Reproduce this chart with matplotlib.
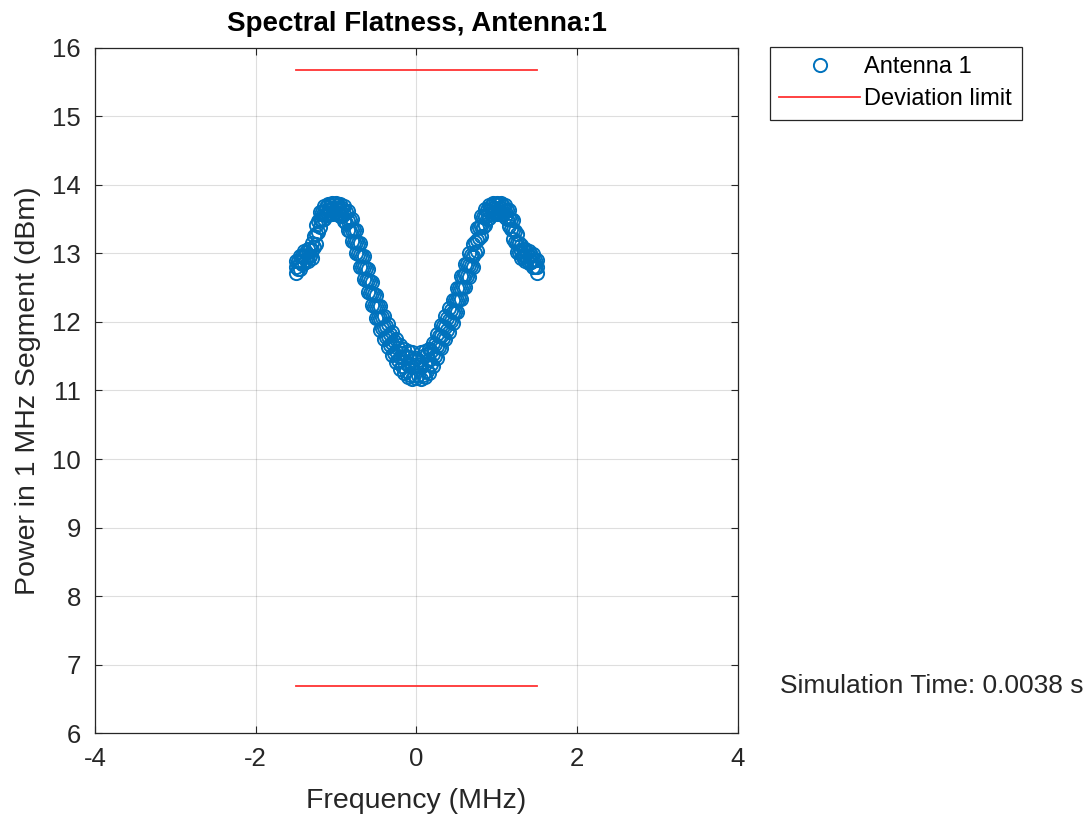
import matplotlib
matplotlib.use('Agg')
import matplotlib.pyplot as plt

# frequency grid of the measured segments (MHz)
freq = [-1.50, -1.45, -1.40, -1.35, -1.30, -1.25, -1.20, -1.15, -1.10, -1.05,
        -1.00, -0.95, -0.90, -0.85, -0.80, -0.75, -0.70, -0.65, -0.60, -0.55,
        -0.50, -0.45, -0.40, -0.35, -0.30, -0.25, -0.20, -0.15, -0.10, -0.05,
        0.00, 0.05, 0.10, 0.15, 0.20, 0.25, 0.30, 0.35, 0.40, 0.45,
        0.50, 0.55, 0.60, 0.65, 0.70, 0.75, 0.80, 0.85, 0.90, 0.95,
        1.00, 1.05, 1.10, 1.15, 1.20, 1.25, 1.30, 1.35, 1.40, 1.45, 1.50]

# power per segment (dBm), three captures
p_low = [12.71, 12.78, 12.86, 12.89, 12.94, 13.14, 13.39, 13.51, 13.56, 13.58,
         13.58, 13.55, 13.47, 13.34, 13.18, 13.00, 12.81, 12.63, 12.44, 12.25,
         12.06, 11.89, 11.75, 11.63, 11.52, 11.41, 11.32, 11.25, 11.19, 11.17,
         11.18, 11.17, 11.19, 11.26, 11.36, 11.48, 11.62, 11.75, 11.86, 11.98,
         12.15, 12.33, 12.51, 12.66, 12.80, 13.03, 13.25, 13.41, 13.52, 13.57,
         13.58, 13.58, 13.53, 13.40, 13.21, 13.02, 12.93, 12.89, 12.86, 12.81, 12.72]
p_mid = [12.80, 12.87, 12.95, 12.98, 13.05, 13.28, 13.50, 13.60, 13.64, 13.66,
         13.66, 13.64, 13.58, 13.48, 13.34, 13.17, 12.98, 12.80, 12.61, 12.42,
         12.23, 12.06, 11.92, 11.80, 11.69, 11.58, 11.49, 11.42, 11.37, 11.35,
         11.36, 11.35, 11.38, 11.44, 11.53, 11.65, 11.79, 11.92, 12.03, 12.15,
         12.32, 12.50, 12.68, 12.83, 12.97, 13.20, 13.40, 13.53, 13.62, 13.66,
         13.67, 13.66, 13.62, 13.52, 13.35, 13.15, 13.03, 12.98, 12.95, 12.90, 12.81]
p_high = [12.89, 12.96, 13.04, 13.07, 13.16, 13.42, 13.61, 13.69, 13.72, 13.73,
          13.73, 13.72, 13.69, 13.62, 13.50, 13.34, 13.15, 12.97, 12.78, 12.59,
          12.40, 12.23, 12.09, 11.97, 11.86, 11.75, 11.66, 11.60, 11.57, 11.56,
          11.48, 11.56, 11.57, 11.61, 11.70, 11.82, 11.96, 12.09, 12.20, 12.32,
          12.49, 12.67, 12.85, 13.00, 13.14, 13.37, 13.55, 13.65, 13.71, 13.73,
          13.74, 13.73, 13.71, 13.64, 13.49, 13.28, 13.13, 13.07, 13.04, 12.99, 12.90]

# segments in between (MHz), two more captures
freq2 = [-1.475, -1.425, -1.375, -1.325, -1.275, -1.225, -1.175, -1.125, -1.075, -1.025,
         -0.975, -0.925, -0.875, -0.825, -0.775, -0.725, -0.675, -0.625, -0.575, -0.525,
         -0.475, -0.425, -0.375, -0.325, -0.275, -0.225, -0.175, -0.125, -0.075, -0.025,
         0.025, 0.075, 0.125, 0.175, 0.225, 0.275, 0.325, 0.375, 0.425, 0.475,
         0.525, 0.575, 0.625, 0.675, 0.725, 0.775, 0.825, 0.875, 0.925, 0.975,
         1.025, 1.075, 1.125, 1.175, 1.225, 1.275, 1.325, 1.375, 1.425, 1.475]
p2_a = [12.78, 12.85, 12.91, 12.96, 13.09, 13.31, 13.49, 13.56, 13.59, 13.60,
        13.59, 13.55, 13.45, 13.33, 13.17, 12.99, 12.81, 12.62, 12.43, 12.24,
        12.06, 11.91, 11.78, 11.66, 11.55, 11.45, 11.36, 11.28, 11.23, 11.22,
        11.22, 11.23, 11.29, 11.39, 11.50, 11.64, 11.77, 11.89, 12.01, 12.15,
        12.33, 12.51, 12.67, 12.82, 13.00, 13.22, 13.39, 13.51, 13.58, 13.61,
        13.61, 13.58, 13.50, 13.36, 13.17, 13.02, 12.95, 12.91, 12.87, 12.80]
p2_b = [12.89, 12.97, 13.02, 13.07, 13.25, 13.47, 13.61, 13.68, 13.71, 13.72,
        13.71, 13.67, 13.61, 13.49, 13.34, 13.16, 12.97, 12.79, 12.60, 12.41,
        12.23, 12.07, 11.94, 11.83, 11.72, 11.62, 11.55, 11.51, 11.49, 11.45,
        11.45, 11.50, 11.53, 11.58, 11.68, 11.80, 11.94, 12.06, 12.17, 12.32,
        12.49, 12.67, 12.84, 12.98, 13.17, 13.38, 13.54, 13.64, 13.70, 13.72,
        13.72, 13.70, 13.64, 13.51, 13.33, 13.16, 13.06, 13.02, 12.98, 12.91]

limit_freq = [-1.5, 1.5]
upper_limit = [15.68, 15.68]
lower_limit = [6.68, 6.68]

sim_time = 0.0038

blue = (0, 0.447, 0.741)
dark = (0.15, 0.15, 0.15)

plt.rcParams['font.family'] = ['Liberation Sans', 'DejaVu Sans']
plt.rcParams['axes.unicode_minus'] = False

fig = plt.figure(figsize=(10.89, 8.19), dpi=100)
ax = fig.add_axes([0.0872, 0.105, 0.5905, 0.8364])

h_ant = None
for f, p in ((freq, p_low), (freq, p_mid), (freq, p_high), (freq2, p2_a), (freq2, p2_b)):
    h_ant, = ax.plot(f, p, 'o', mfc='none', mec=blue, ms=9.5, mew=1.4,
                     linestyle='none')
h_lim, = ax.plot(limit_freq, upper_limit, '-', color=(1, 0.2, 0.2), lw=1.3)
ax.plot(limit_freq, lower_limit, '-', color=(1, 0.2, 0.2), lw=1.3)

ax.set_xlim(-4, 4)
ax.set_ylim(6, 16)
ax.set_xticks([-4, -2, 0, 2, 4])
ax.set_yticks(range(6, 17))
ax.grid(True, color=dark, alpha=0.15, lw=0.8)
ax.set_axisbelow(True)
ax.tick_params(direction='in', length=5, width=0.8, colors=dark,
               labelsize=18.5, top=True, right=True)
ax.tick_params(axis='y', pad=10)
ax.tick_params(axis='x', pad=10)
for s in ax.spines.values():
    s.set_color(dark)
    s.set_linewidth(0.9)

ax.set_title('Spectral Flatness, Antenna:1', fontsize=20, fontweight='bold',
             color='black', pad=12)
ax.set_xlabel('Frequency (MHz)', fontsize=20.5, color=dark, labelpad=12)
ax.set_ylabel('Power in 1 MHz Segment (dBm)', fontsize=20.5, color=dark, labelpad=8)

leg = ax.legend([h_ant, h_lim], ['Antenna 1', 'Deviation limit'],
                loc='upper left', bbox_to_anchor=(1.0498, 1.0015),
                borderaxespad=0, fontsize=17, handlelength=3.4,
                handletextpad=0.2, borderpad=0.4, labelspacing=0.42,
                fancybox=False, framealpha=1)
leg.get_frame().set_edgecolor(dark)
leg.get_frame().set_linewidth(0.9)

ax.text(1.065, 0.0686, f'Simulation Time: {sim_time} s', transform=ax.transAxes,
        ha='left', va='center', fontsize=19, color=dark)

fig.savefig('out.png', dpi=100)
